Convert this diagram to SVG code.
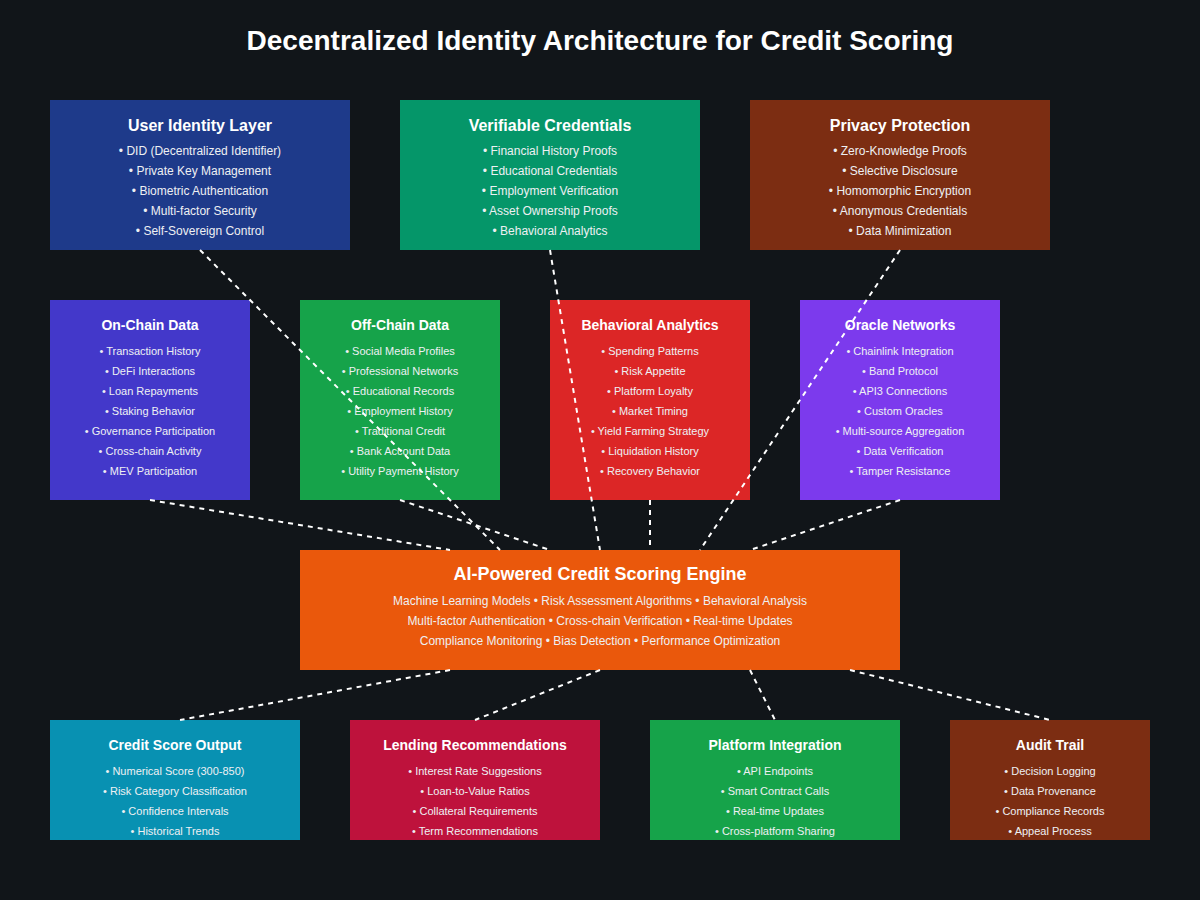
<svg xmlns="http://www.w3.org/2000/svg" width="1200" height="900" viewBox="0 0 1200 900">
<style>
text{font-family:"Liberation Sans",Arial,sans-serif;fill:#fff;text-anchor:middle}
.title{font-size:28px;font-weight:bold}
.h1{font-size:16px;font-weight:bold}
.h2{font-size:14px;font-weight:bold}
.h3{font-size:18px;font-weight:bold}
.i1{font-size:12px;fill:#eef0f3}
.i2{font-size:11px;fill:#eef0f3}
.conn line{stroke:#fff;stroke-width:2;stroke-dasharray:5,5}
</style>
<rect width="1200" height="900" fill="#111519"/>
<text class="title" x="600" y="50">Decentralized Identity Architecture for Credit Scoring</text>

<g id="user-identity">
<rect x="50" y="100" width="300" height="150" fill="#1e3a8a"/>
<text class="h1" x="200" y="131">User Identity Layer</text>
<text class="i1" x="200" y="155">• DID (Decentralized Identifier)</text>
<text class="i1" x="200" y="175">• Private Key Management</text>
<text class="i1" x="200" y="195">• Biometric Authentication</text>
<text class="i1" x="200" y="215">• Multi-factor Security</text>
<text class="i1" x="200" y="235">• Self-Sovereign Control</text>
</g>
<g id="verifiable-credentials">
<rect x="400" y="100" width="300" height="150" fill="#059669"/>
<text class="h1" x="550" y="131">Verifiable Credentials</text>
<text class="i1" x="550" y="155">• Financial History Proofs</text>
<text class="i1" x="550" y="175">• Educational Credentials</text>
<text class="i1" x="550" y="195">• Employment Verification</text>
<text class="i1" x="550" y="215">• Asset Ownership Proofs</text>
<text class="i1" x="550" y="235">• Behavioral Analytics</text>
</g>
<g id="privacy-protection">
<rect x="750" y="100" width="300" height="150" fill="#7c2d12"/>
<text class="h1" x="900" y="131">Privacy Protection</text>
<text class="i1" x="900" y="155">• Zero-Knowledge Proofs</text>
<text class="i1" x="900" y="175">• Selective Disclosure</text>
<text class="i1" x="900" y="195">• Homomorphic Encryption</text>
<text class="i1" x="900" y="215">• Anonymous Credentials</text>
<text class="i1" x="900" y="235">• Data Minimization</text>
</g>

<g id="on-chain">
<rect x="50" y="300" width="200" height="200" fill="#4338ca"/>
<text class="h2" x="150" y="330">On-Chain Data</text>
<text class="i2" x="150" y="355">• Transaction History</text>
<text class="i2" x="150" y="375">• DeFi Interactions</text>
<text class="i2" x="150" y="395">• Loan Repayments</text>
<text class="i2" x="150" y="415">• Staking Behavior</text>
<text class="i2" x="150" y="435">• Governance Participation</text>
<text class="i2" x="150" y="455">• Cross-chain Activity</text>
<text class="i2" x="150" y="475">• MEV Participation</text>
</g>
<g id="off-chain">
<rect x="300" y="300" width="200" height="200" fill="#16a34a"/>
<text class="h2" x="400" y="330">Off-Chain Data</text>
<text class="i2" x="400" y="355">• Social Media Profiles</text>
<text class="i2" x="400" y="375">• Professional Networks</text>
<text class="i2" x="400" y="395">• Educational Records</text>
<text class="i2" x="400" y="415">• Employment History</text>
<text class="i2" x="400" y="435">• Traditional Credit</text>
<text class="i2" x="400" y="455">• Bank Account Data</text>
<text class="i2" x="400" y="475">• Utility Payment History</text>
</g>
<g id="behavioral-analytics">
<rect x="550" y="300" width="200" height="200" fill="#dc2626"/>
<text class="h2" x="650" y="330">Behavioral Analytics</text>
<text class="i2" x="650" y="355">• Spending Patterns</text>
<text class="i2" x="650" y="375">• Risk Appetite</text>
<text class="i2" x="650" y="395">• Platform Loyalty</text>
<text class="i2" x="650" y="415">• Market Timing</text>
<text class="i2" x="650" y="435">• Yield Farming Strategy</text>
<text class="i2" x="650" y="455">• Liquidation History</text>
<text class="i2" x="650" y="475">• Recovery Behavior</text>
</g>
<g id="oracle-networks">
<rect x="800" y="300" width="200" height="200" fill="#7c3aed"/>
<text class="h2" x="900" y="330">Oracle Networks</text>
<text class="i2" x="900" y="355">• Chainlink Integration</text>
<text class="i2" x="900" y="375">• Band Protocol</text>
<text class="i2" x="900" y="395">• API3 Connections</text>
<text class="i2" x="900" y="415">• Custom Oracles</text>
<text class="i2" x="900" y="435">• Multi-source Aggregation</text>
<text class="i2" x="900" y="455">• Data Verification</text>
<text class="i2" x="900" y="475">• Tamper Resistance</text>
</g>

<g id="engine">
<rect x="300" y="550" width="600" height="120" fill="#ea580c"/>
<text class="h3" x="600" y="580">AI-Powered Credit Scoring Engine</text>
<text class="i1" x="600" y="605">Machine Learning Models • Risk Assessment Algorithms • Behavioral Analysis</text>
<text class="i1" x="600" y="625">Multi-factor Authentication • Cross-chain Verification • Real-time Updates</text>
<text class="i1" x="600" y="645">Compliance Monitoring • Bias Detection • Performance Optimization</text>
</g>

<g id="credit-score-output">
<rect x="50" y="720" width="250" height="120" fill="#0891b2"/>
<text class="h2" x="175" y="750">Credit Score Output</text>
<text class="i2" x="175" y="775">• Numerical Score (300-850)</text>
<text class="i2" x="175" y="795">• Risk Category Classification</text>
<text class="i2" x="175" y="815">• Confidence Intervals</text>
<text class="i2" x="175" y="835">• Historical Trends</text>
</g>
<g id="lending-recommendations">
<rect x="350" y="720" width="250" height="120" fill="#be123c"/>
<text class="h2" x="475" y="750">Lending Recommendations</text>
<text class="i2" x="475" y="775">• Interest Rate Suggestions</text>
<text class="i2" x="475" y="795">• Loan-to-Value Ratios</text>
<text class="i2" x="475" y="815">• Collateral Requirements</text>
<text class="i2" x="475" y="835">• Term Recommendations</text>
</g>
<g id="platform-integration">
<rect x="650" y="720" width="250" height="120" fill="#16a34a"/>
<text class="h2" x="775" y="750">Platform Integration</text>
<text class="i2" x="775" y="775">• API Endpoints</text>
<text class="i2" x="775" y="795">• Smart Contract Calls</text>
<text class="i2" x="775" y="815">• Real-time Updates</text>
<text class="i2" x="775" y="835">• Cross-platform Sharing</text>
</g>
<g id="audit-trail">
<rect x="950" y="720" width="200" height="120" fill="#7c2d12"/>
<text class="h2" x="1050" y="750">Audit Trail</text>
<text class="i2" x="1050" y="775">• Decision Logging</text>
<text class="i2" x="1050" y="795">• Data Provenance</text>
<text class="i2" x="1050" y="815">• Compliance Records</text>
<text class="i2" x="1050" y="835">• Appeal Process</text>
</g>

<g id="connectors" class="conn">
<line x1="200" y1="250" x2="500" y2="550"/>
<line x1="550" y1="250" x2="600" y2="550"/>
<line x1="900" y1="250" x2="700" y2="550"/>
<line x1="150" y1="500" x2="450" y2="550"/>
<line x1="400" y1="500" x2="550" y2="550"/>
<line x1="650" y1="500" x2="650" y2="550"/>
<line x1="900" y1="500" x2="750" y2="550"/>
<line x1="450" y1="670" x2="180" y2="720"/>
<line x1="600" y1="670" x2="475" y2="720"/>
<line x1="750" y1="670" x2="775" y2="720"/>
<line x1="850" y1="670" x2="1050" y2="720"/>
</g>
</svg>
